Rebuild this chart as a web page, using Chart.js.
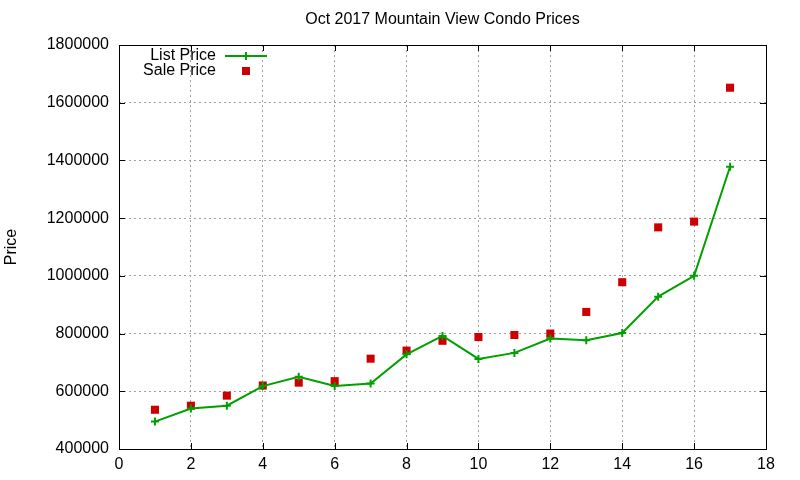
<!DOCTYPE html>
<html>
<head>
<meta charset="utf-8">
<script src="https://cdn.jsdelivr.net/npm/chart.js@4.4.0/dist/chart.umd.min.js"></script>
<style>
    html, body { margin: 0; padding: 0; background: #fff; }
</style>
</head>
<body>
<canvas id="chart" width="800" height="480"></canvas>
<script>
var chartTitle = 'Oct 2017 Mountain View Condo Prices';
var yTitle = 'Price';
var units = [1, 2, 3, 4, 5, 6, 7, 8, 9, 10, 11, 12, 13, 14, 15, 16, 17];
var listPrice = [495000, 540000, 550000, 618000, 650000, 618000, 627000, 728000, 792000, 712000, 733000, 783000, 777000, 802000, 928000, 1000000, 1378000];
var salePrice = [536000, 550000, 585000, 620000, 630000, 635000, 713000, 741000, 775000, 788000, 795000, 800000, 875000, 978000, 1168000, 1188000, 1652000];
var xTicks = [0, 2, 4, 6, 8, 10, 12, 14, 16, 18];
var yTicks = [400000, 600000, 800000, 1000000, 1200000, 1400000, 1600000, 1800000];

var green = '#00a000';
var red = '#cc0000';
var fontFamily = '"Liberation Sans", Arial, sans-serif';

Chart.defaults.font.family = fontFamily;
Chart.defaults.font.size = 16;
Chart.defaults.color = '#000';

function toPoints(values) {
    return values.map(function (v, i) { return { x: units[i], y: v }; });
}

// gnuplot style frame: border box, inward ticks on all four sides, title and legend
var gnuplotFrame = {
    id: 'gnuplotFrame',
    afterDraw: function (chart) {
        var ctx = chart.ctx;
        var a = chart.chartArea;
        var xs = chart.scales.x, ys = chart.scales.y;
        ctx.save();
        ctx.strokeStyle = '#000';
        ctx.lineWidth = 1;
        ctx.strokeRect(a.left + 0.5, a.top + 0.5, a.right - a.left, a.bottom - a.top);
        ctx.beginPath();
        xTicks.forEach(function (t) {
            var px = Math.round(xs.getPixelForValue(t)) + 0.5;
            ctx.moveTo(px, a.bottom); ctx.lineTo(px, a.bottom - 6);
            ctx.moveTo(px, a.top); ctx.lineTo(px, a.top + 6);
        });
        yTicks.forEach(function (t) {
            var py = Math.round(ys.getPixelForValue(t)) + 0.5;
            ctx.moveTo(a.left, py); ctx.lineTo(a.left + 6, py);
            ctx.moveTo(a.right, py); ctx.lineTo(a.right - 6, py);
        });
        ctx.stroke();

        ctx.fillStyle = '#000';
        ctx.font = '16px ' + fontFamily;
        ctx.textAlign = 'center';
        ctx.textBaseline = 'middle';
        ctx.fillText(chartTitle, (a.left + a.right) / 2, 20);

        ctx.save();
        ctx.translate(12, (a.top + a.bottom) / 2);
        ctx.rotate(-Math.PI / 2);
        ctx.fillText(yTitle, 0, 0);
        ctx.restore();

        // legend
        var ds = chart.data.datasets;
        ctx.textAlign = 'right';
        ctx.fillText(ds[0].label, a.left + 97, a.top + 11);
        ctx.fillText(ds[1].label, a.left + 97, a.top + 26);
        var lx = a.left + 127, ly = a.top + 11;
        ctx.strokeStyle = green;
        ctx.lineWidth = 2;
        ctx.beginPath();
        ctx.moveTo(a.left + 106, ly); ctx.lineTo(a.left + 148, ly);
        ctx.moveTo(lx, ly - 4); ctx.lineTo(lx, ly + 4);
        ctx.stroke();
        ctx.fillStyle = red;
        ctx.fillRect(lx - 4, a.top + 22, 8, 8);
        ctx.restore();
    }
};

var ctx = document.getElementById('chart');
var priceChart = new Chart(ctx, {
    type: 'scatter',
    data: {
        datasets: [{
            label: 'List Price',
            data: toPoints(listPrice),
            showLine: true,
            borderColor: green,
            backgroundColor: green,
            borderWidth: 2,
            pointStyle: 'cross',
            pointRadius: 4,
            pointBorderWidth: 2,
            pointBorderColor: green,
            tension: 0
        }, {
            label: 'Sale Price',
            data: toPoints(salePrice),
            showLine: false,
            backgroundColor: red,
            borderColor: red,
            pointStyle: 'rect',
            pointRadius: 5.7,
            pointBorderWidth: 0
        }]
    },
    options: {
        responsive: false,
        animation: false,
        layout: { padding: { top: 45, right: 34, left: 0, bottom: 0 } },
        plugins: {
            legend: { display: false },
            title: { display: false },
            tooltip: { enabled: false }
        },
        scales: {
            x: {
                type: 'linear',
                min: 0,
                max: 18,
                afterBuildTicks: function (scale) {
                    scale.ticks = xTicks.map(function (v) { return { value: v }; });
                },
                afterFit: function (scale) { scale.height = 31; },
                grid: { color: '#a0a0a0', lineWidth: 1, drawTicks: false },
                border: { display: false, dash: [2, 3] },
                ticks: { padding: 6, maxRotation: 0 }
            },
            y: {
                type: 'linear',
                min: 400000,
                max: 1800000,
                afterBuildTicks: function (scale) {
                    scale.ticks = yTicks.map(function (v) { return { value: v }; });
                },
                afterFit: function (scale) { scale.width = 119; },
                grid: { color: '#a0a0a0', lineWidth: 1, drawTicks: false },
                border: { display: false, dash: [2, 3] },
                ticks: {
                    padding: 10,
                    callback: function (v) { return String(v); }
                }
            }
        }
    },
    plugins: [gnuplotFrame]
});
</script>
</body>
</html>
